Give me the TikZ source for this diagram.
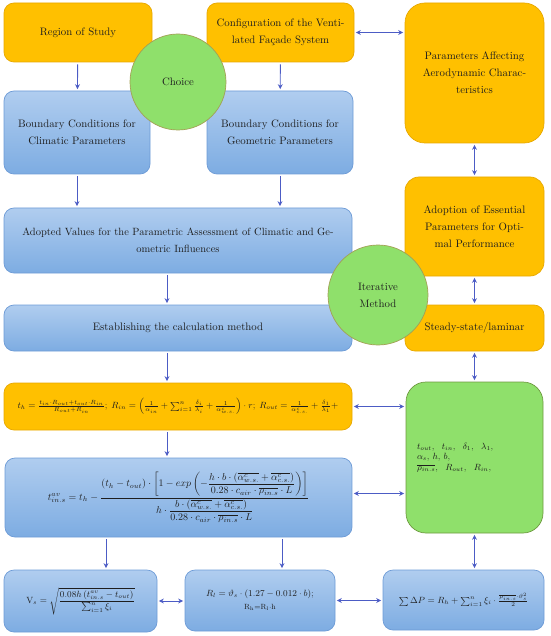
\documentclass[tikz,border=0pt]{standalone}
\usepackage{amsmath}
\usetikzlibrary{arrows.meta,calc}
\definecolor{org}{HTML}{FFC000}
\definecolor{orgd}{HTML}{E8A800}
\definecolor{bluetop}{HTML}{B0CDEF}
\definecolor{bluebot}{HTML}{7DACE2}
\definecolor{blued}{HTML}{6D9BD6}
\definecolor{grn}{HTML}{8FE06B}
\definecolor{grnd}{HTML}{6E9A40}
\definecolor{circd}{HTML}{A3A055}
\definecolor{arrc}{HTML}{4C5CC5}
\definecolor{txt}{HTML}{1E1E1E}
\begin{document}
\begin{tikzpicture}[x=1pt,y=-1pt,
  base/.style={rounded corners=10pt, line width=0.7pt, align=center, inner sep=2pt, text=txt, font=\fontsize{10.8}{17}\selectfont},
  obox/.style={base, fill=org, draw=orgd},
  bbox/.style={base, top color=bluetop, bottom color=bluebot, draw=blued},
  gbox/.style={base, fill=grn, draw=grnd},
  circ/.style={circle, fill=grn, draw=circd, line width=0.7pt, align=center, text=txt, font=\fontsize{10.8}{17}\selectfont, inner sep=0pt},
  arr/.style={draw=arrc, line width=0.9pt, -{Stealth[length=5pt,width=5pt]}, shorten >=1.5pt, shorten <=2pt},
  darr/.style={draw=arrc, line width=0.9pt, {Stealth[length=5pt,width=5pt]}-{Stealth[length=5pt,width=5pt]}, shorten >=1.5pt, shorten <=1.5pt},
]
\useasboundingbox (0,0) rectangle (550,636);

% boxes
\node[obox, minimum width=148pt, minimum height=59pt] (region) at (78,32.5) {Region of Study};
\node[obox, minimum width=147pt, minimum height=59pt] (config) at (280.5,32.5) {Configuration of the Venti-\\lated Façade System};
\node[obox, rounded corners=20pt, minimum width=139pt, minimum height=140pt] (params) at (474.5,73) {Parameters Affecting\\Aerodynamic Charac-\\teristics};
\node[bbox, minimum width=146pt, minimum height=83pt] (bcclim) at (77,132.5) {Boundary Conditions for\\Climatic Parameters};
\node[bbox, minimum width=146pt, minimum height=83pt] (bcgeo) at (280,132.5) {Boundary Conditions for\\Geometric Parameters};
\node[bbox, minimum width=348pt, minimum height=65pt, font=\fontsize{10.5}{17}\selectfont] (adopted) at (178,240.5) {Adopted Values for the Parametric Assessment of Climatic and Ge-\\ometric Influences};
\node[obox, rounded corners=14pt, minimum width=139pt, minimum height=99pt] (adoption) at (474.5,226.5) {Adoption of Essential\\Parameters for Opti-\\mal Performance};
\node[bbox, minimum width=348pt, minimum height=46pt] (establish) at (178,328) {Establishing the calculation method};
\node[obox, minimum width=139pt, minimum height=46pt] (steady) at (474.5,328) {Steady-state/laminar};
\node[obox, minimum width=348pt, minimum height=47pt, font=\fontsize{9}{11}\selectfont] (th) at (178,406.5)
 {$t_h=\frac{t_{in}\cdot R_{out}+t_{out}\cdot R_{in}}{R_{out}+R_{in}};\;R_{in}=\left(\frac{1}{\alpha_{in}}+\sum_{i=1}^{n}\frac{\delta_i}{\lambda_i}+\frac{1}{\alpha^{c}_{w.s.}}\right)\cdot r;\;R_{out}=\frac{1}{\alpha^{c}_{c.s.}}+\frac{\delta_1}{\lambda_1}+$};
\node[gbox, rounded corners=20pt, minimum width=137pt, minimum height=151pt, text width=115pt, align=left, font=\fontsize{8.8}{10.5}\selectfont] (green) at (474.5,457.5)
 {$t_{out},\ \ t_{in},\ \ \delta_1,\ \ \lambda_1,$\\ $\alpha_s,\, h,\, b,$\\ $\overline{\rho_{in.s}},\ \ R_{out},\ \ R_{in},$};
\node[bbox, minimum width=347pt, minimum height=79pt, font=\fontsize{9.6}{11}\selectfont] (tin) at (178.5,497.5)
 {$t^{av}_{in.s}=t_h-\dfrac{(t_h-t_{out})\cdot\left[1-exp\left(-\dfrac{h\cdot b\cdot\left(\overline{\alpha^{c}_{w.s.}}+\overline{\alpha^{c}_{c.s.}}\right)}{0.28\cdot c_{air}\cdot\overline{\rho_{in.s}}\cdot L}\right)\right]}{h\cdot\dfrac{b\cdot\left(\overline{\alpha^{c}_{w.s.}}+\overline{\alpha^{c}_{c.s.}}\right)}{0.28\cdot c_{air}\cdot\overline{\rho_{in.s}}\cdot L}}$};
\node[bbox, minimum width=153pt, minimum height=62pt, font=\fontsize{9}{11}\selectfont] (vs) at (80.5,601)
 {$\mathrm{V}_s=\sqrt{\dfrac{0.08h\left(t^{av}_{in.s}-t_{out}\right)}{\sum_{i=1}^{n}\xi_i}}$};
\node[bbox, minimum width=150pt, minimum height=61pt, font=\fontsize{9}{13}\selectfont] (rl) at (260,600.5)
 {$R_l=\vartheta_s\cdot(1.27-0.012\cdot b);$\\ {\fontsize{7.5}{9}\selectfont R\textsubscript{h}=R\textsubscript{l}$\cdot$h}};
\node[bbox, minimum width=161pt, minimum height=60pt, font=\fontsize{9}{11}\selectfont] (dp) at (463.5,600)
 {$\sum\Delta P=R_h+\sum_{i=1}^{n}\xi_i\cdot\frac{\overline{\rho_{in.s}}\cdot\vartheta_s^2}{2}$};

% circles
\node[circ, minimum size=96pt] (choice) at (178,82) {Choice};
\node[circ, minimum size=100pt] (iter) at (378,295) {Iterative\\Method};

% arrows
\draw[arr] (region) -- (bcclim);
\draw[arr] (config) -- (bcgeo);
\draw[darr] (config.east) -- (config.east -| params.west);
\draw[darr] (params) -- (adoption);
\draw[arr] (bcclim.south) -- (bcclim.south |- adopted.north);
\draw[arr] (bcgeo.south) -- (bcgeo.south |- adopted.north);
\draw[arr] ([xshift=-11pt]adopted.south) -- ([xshift=-11pt]adopted.south |- establish.north);
\draw[arr] ([xshift=-11pt]establish.south) -- ([xshift=-11pt]establish.south |- th.north);
\draw[arr] ([xshift=-11pt]th.south) -- ([xshift=-11pt]th.south |- tin.north);
\draw[darr] (adoption) -- (steady);
\draw[darr] (steady) -- (green);
\draw[darr] (th.east) -- (th.east -| green.west);
\draw[darr] ([yshift=4pt]tin.east) -- ([yshift=4pt]tin.east -| green.west);
\draw[darr] (green.south) -- (green.south |- dp.north);
\draw[arr] ([xshift=25.5pt]vs.north |- tin.south) -- ([xshift=25.5pt]vs.north);
\draw[arr] ([xshift=22pt]rl.north |- tin.south) -- ([xshift=22pt]rl.north);
\draw[darr] (vs.east) -- (vs.east -| rl.west);
\draw[darr] (rl.east) -- (rl.east -| dp.west);
\end{tikzpicture}
\end{document}
